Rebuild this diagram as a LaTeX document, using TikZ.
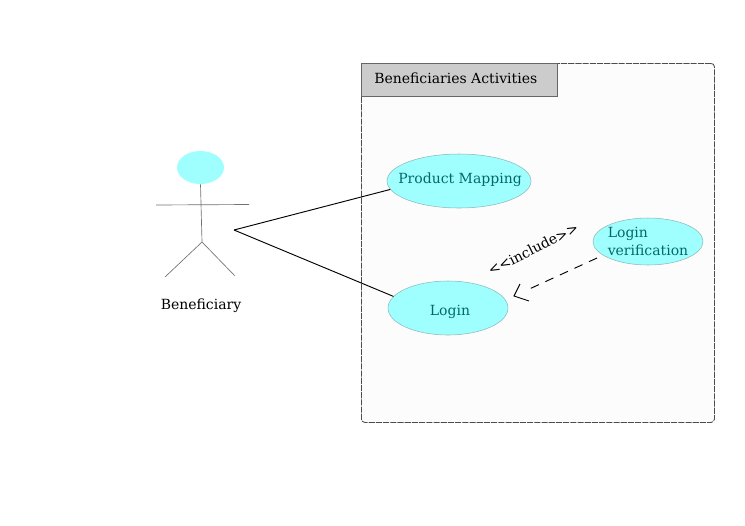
\documentclass[tikz,border=0pt]{standalone}
\usepackage{fontspec}
\setmainfont{DejaVu Serif}
\usetikzlibrary{shapes.geometric}
\definecolor{ucfill}{HTML}{9FFFFF}
\definecolor{uctext}{HTML}{006A6A}
\definecolor{ucedge}{HTML}{8FB8B8}
\tikzset{
  usecase/.style={ellipse,draw=ucedge,line width=0.4pt,fill=ucfill,inner sep=0pt},
  casetext/.style={inner sep=0pt,text=uctext,font=\fontsize{10.5pt}{13.5pt}\selectfont,align=left},
  limb/.style={draw=black!55,line width=0.5pt},
  assoc/.style={draw=black,line width=0.7pt},
  panel/.style={draw=black!70,dash pattern=on 4.6pt off 0.8pt,line width=0.65pt,fill=black!1,rounded corners=2.5pt},
  tabbox/.style={draw=black!60,line width=0.6pt,fill=black!20,anchor=north west,minimum width=147pt,minimum height=24.75pt,inner sep=0pt},
  plain/.style={inner sep=0pt,font=\fontsize{10.5pt}{12.6pt}\selectfont,text=black}
}
\begin{document}
\begin{tikzpicture}[x=0.75pt,y=-0.75pt]
\useasboundingbox (0,0) rectangle (745,525);
\fill[white] (0,0) rectangle (745,525);
\node[panel,anchor=north west,minimum width=264.75pt,minimum height=269.25pt,inner sep=0pt] (boundary) at (361,63) {};
\node[tabbox] (tab) at (361,63) {};
\node[plain,anchor=west] (tabtext) at (374,78) {Beneficiaries Activities};
\node[usecase,minimum width=108pt,minimum height=40.5pt] (pm) at (459,181) {};
\node[casetext] (pmtext) at (460,180) {Product Mapping};
\node[usecase,minimum width=90pt,minimum height=40.5pt] (login) at (448,308) {};
\node[casetext] (logintext) at (450,312) {Login};
\node[usecase,minimum width=82.5pt,minimum height=35.25pt] (lv) at (648,241.5) {};
\node[casetext] (lvtext) at (648,241.5) {Login\\verification};
% actor
\node[ellipse,fill=ucfill,minimum width=35.25pt,minimum height=24.75pt,inner sep=0pt] (head) at (200.5,167.5) {};
\coordinate (hip) at (202,242);
\coordinate (armL) at (156,205);
\coordinate (armR) at (249,204.5);
\coordinate (legL) at (165,277);
\coordinate (legR) at (235,276);
\draw[limb] (head.south) -- (hip);
\draw[limb] (armL) -- (armR);
\draw[limb] (hip) -- (legL);
\draw[limb] (hip) -- (legR);
\node[plain] (actorlabel) at (201,306) {Beneficiary};
% connectors
\coordinate (hub) at (234,230);
\draw[assoc] (hub) -- (pm.187);
\draw[assoc] (hub) -- (login.168);
\coordinate (lvport) at (597,258);
\coordinate (tip) at (514,296);
\coordinate (barbA) at (520,284);
\coordinate (barbB) at (529,301);
\draw[assoc,dash pattern=on 6.6pt off 5.4pt on 6.6pt off 5.4pt on 6.6pt off 5.4pt on 6.6pt off 5.4pt on 6.6pt off 30pt] (lvport) -- (tip);
\draw[assoc] (barbA) -- (tip) -- (barbB);
\node[plain,rotate=26.6] (incl) at (533,249) {{<}{<}include{>}{>}};
\end{tikzpicture}
\end{document}
